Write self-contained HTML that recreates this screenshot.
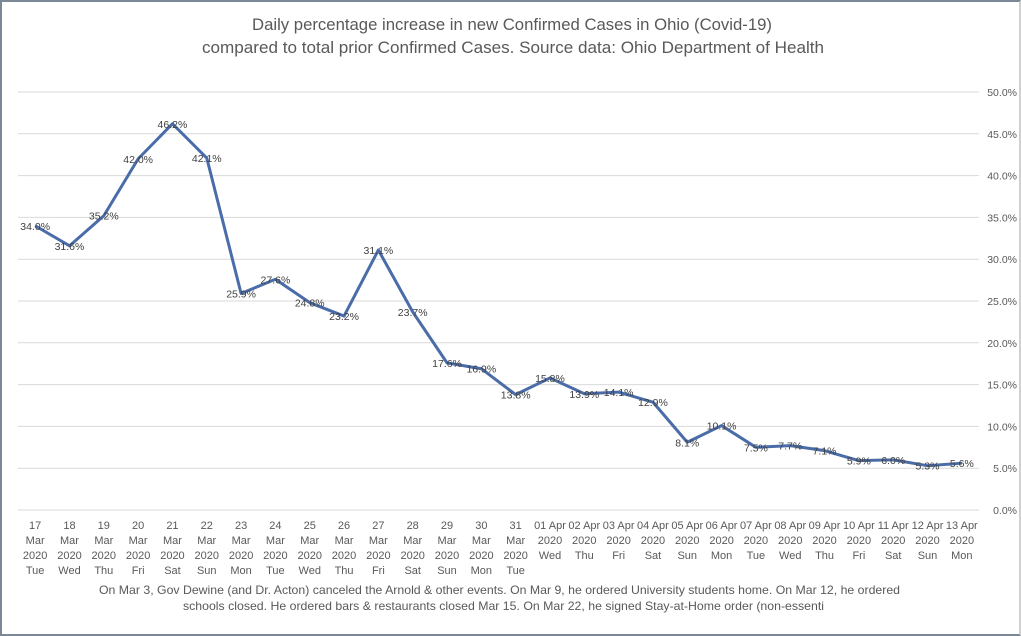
<!DOCTYPE html>
<html><head><meta charset="utf-8"><style>
html,body{margin:0;padding:0;background:#fff}
#c{position:relative;width:1021px;height:636px;box-sizing:border-box;border:2px solid #7a8898;border-right-color:#d0d0d0;overflow:hidden;font-family:"Liberation Sans",sans-serif}
svg{position:absolute;left:0;top:0}
</style></head><body>
<div id="c">
<svg id="s" width="1021" height="636"></svg>
</div>
<script>
const categories=["17|Mar|2020|Tue","18|Mar|2020|Wed","19|Mar|2020|Thu","20|Mar|2020|Fri","21|Mar|2020|Sat","22|Mar|2020|Sun","23|Mar|2020|Mon","24|Mar|2020|Tue","25|Mar|2020|Wed","26|Mar|2020|Thu","27|Mar|2020|Fri","28|Mar|2020|Sat","29|Mar|2020|Sun","30|Mar|2020|Mon","31|Mar|2020|Tue","01 Apr|2020|Wed","02 Apr|2020|Thu","03 Apr|2020|Fri","04 Apr|2020|Sat","05 Apr|2020|Sun","06 Apr|2020|Mon","07 Apr|2020|Tue","08 Apr|2020|Wed","09 Apr|2020|Thu","10 Apr|2020|Fri","11 Apr|2020|Sat","12 Apr|2020|Sun","13 Apr|2020|Mon"];
const values=[34.0,31.6,35.2,42.0,46.2,42.1,25.9,27.6,24.8,23.2,31.1,23.7,17.6,16.9,13.8,15.8,13.9,14.1,12.9,8.1,10.1,7.5,7.7,7.1,5.9,6.0,5.3,5.6];
const yTicks=[0,5,10,15,20,25,30,35,40,45,50];
const NS="http://www.w3.org/2000/svg";
const svg=document.getElementById('s');
const L=16,R=977,T=90,B=508,yMax=50;
const step=(R-L)/categories.length;
const x=i=>L+step*(i+0.5);
const y=v=>B-(v/yMax)*(B-T);
function mk(tag,attrs,txt){const e=document.createElementNS(NS,tag);for(const k in attrs)e.setAttribute(k,attrs[k]);if(txt!==undefined)e.textContent=txt;svg.appendChild(e);return e;}
let t=mk('text',{x:510,y:28,'text-anchor':'middle','font-size':'16.5',fill:'#595959',textLength:520,lengthAdjust:'spacingAndGlyphs'},'Daily percentage increase in  new Confirmed Cases in Ohio (Covid-19)');


t=mk('text',{x:511,y:51,'text-anchor':'middle','font-size':'16.5',fill:'#595959',textLength:622,lengthAdjust:'spacingAndGlyphs'},'compared to total prior Confirmed Cases. Source data: Ohio Department of Health');


yTicks.forEach(v=>{
 const g=mk('line',{x1:L,x2:R,y1:y(v),y2:y(v),stroke:'#d9d9d9','stroke-width':1});
 
 
 const l=mk('text',{x:1015,y:y(v)+4,'text-anchor':'end','font-size':'10.5',fill:'#595959'},v.toFixed(1)+'%');
 
 
});
categories.forEach((c,i)=>{
 const parts=c.split('|');
 const off=parts.length===3?1:0;
 parts.forEach((p,j)=>{
  const e=mk('text',{x:x(i),y:527+(j+off)*15-(off?15:0),'text-anchor':'middle','font-size':'11',fill:'#595959'},p);
  
  
 });
});
const pts=values.map((v,i)=>x(i)+','+y(v)).join(' ');
const line=mk('polyline',{points:pts,fill:'none',stroke:'#4a6ca8','stroke-width':3,'stroke-linejoin':'round'});


values.forEach((v,i)=>{
 const e=mk('text',{x:x(i),y:y(v)+4,'text-anchor':'middle','font-size':'10.5',fill:'#404040'},v.toFixed(1)+'%');
 
 
});
t=mk('text',{x:97,y:592,'font-size':'12','fill':'#595959',textLength:801,lengthAdjust:'spacingAndGlyphs'},'On Mar 3, Gov Dewine (and Dr. Acton) canceled the Arnold & other events. On Mar 9, he ordered University students home.  On Mar 12, he ordered');


t=mk('text',{x:181,y:608,'font-size':'12',fill:'#595959',textLength:641,lengthAdjust:'spacingAndGlyphs'},'schools closed. He ordered bars & restaurants closed Mar 15. On Mar 22, he signed Stay-at-Home order (non-essenti');


</script>
</body></html>
